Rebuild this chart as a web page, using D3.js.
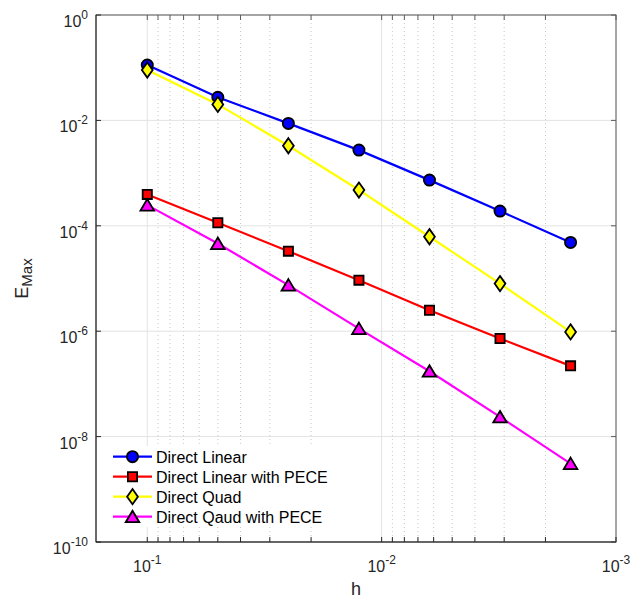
<!DOCTYPE html>
<html>
<head>
<meta charset="utf-8">
<script src="https://cdn.jsdelivr.net/npm/d3@7"></script>
<style>
  body { margin: 0; background: #fff; }
  svg { display: block; font-family: "Liberation Sans", Arial, Helvetica, sans-serif; }
</style>
</head>
<body>
<div id="chart"></div>
<script>
// step sizes and max errors
var hValues = [0.1, 0.05, 0.025, 0.0125, 0.00625, 0.003125, 0.0015625];
var directLinear = [0.112, 0.0274, 0.00877, 0.00273, 7.36e-4, 1.9e-4, 4.83e-5];
var directLinearPECE = [3.94e-4, 1.14e-4, 3.3e-5, 9.3e-6, 2.5e-6, 7.27e-7, 2.2e-7];
var directQuad = [0.0903, 0.0201, 0.0033, 4.77e-4, 6.2e-5, 8.0e-6, 9.7e-7];
var directQuadPECE = [2.47e-4, 4.6e-5, 7.5e-6, 1.12e-6, 1.74e-7, 2.36e-8, 3.07e-9];

var seriesNames = ["Direct Linear", "Direct Linear with PECE", "Direct Quad", "Direct Qaud with PECE"];
var xTickExps = [-1, -2, -3];
var yTickExps = [0, -2, -4, -6, -8, -10];

var width = 635, height = 601;
var margin = { top: 15, left: 96, right: 19, bottom: 59 };
var w = width - margin.left - margin.right;
var h = height - margin.top - margin.bottom;

var svg = d3.select("#chart")
    .append("svg")
    .attr("width", width)
    .attr("height", height);

var g = svg.append("g")
    .attr("transform", "translate(" + margin.left + "," + margin.top + ")");

// log x axis, reversed (large h on the left)
var x = d3.scaleLog().domain([Math.pow(10, -0.7812), 1e-3]).range([0, w]);
var y = d3.scaleLog().domain([1e-10, 1]).range([h, 0]);

var axisColor = "#262626";

// minor x grid (dotted)
var minorX = [];
[-3, -2].forEach(function (e) {
    for (var m = 2; m <= 9; m++) minorX.push(m * Math.pow(10, e));
});
g.append("g").selectAll("line")
    .data(minorX)
    .enter().append("line")
    .attr("x1", function (d) { return x(d); })
    .attr("x2", function (d) { return x(d); })
    .attr("y1", 0).attr("y2", h)
    .style("stroke", "#c8c8c8")
    .style("stroke-width", "1px")
    .style("stroke-dasharray", "1,3");

// major grid
g.append("g").selectAll("line")
    .data(xTickExps)
    .enter().append("line")
    .attr("x1", function (d) { return x(Math.pow(10, d)); })
    .attr("x2", function (d) { return x(Math.pow(10, d)); })
    .attr("y1", 0).attr("y2", h)
    .style("stroke", "#e3e3e3")
    .style("stroke-width", "1px");

g.append("g").selectAll("line")
    .data(yTickExps)
    .enter().append("line")
    .attr("x1", 0).attr("x2", w)
    .attr("y1", function (d) { return y(Math.pow(10, d)); })
    .attr("y2", function (d) { return y(Math.pow(10, d)); })
    .style("stroke", "#e3e3e3")
    .style("stroke-width", "1px");

// markers
function markerPath(type) {
    if (type === "circle") return d3.symbol().type(d3.symbolCircle).size(Math.PI * 5.6 * 5.6)();
    if (type === "square") return "M-4.6,-4.6L4.6,-4.6L4.6,4.6L-4.6,4.6Z";
    if (type === "diamond") return "M0,-7.6L5.4,0L0,7.6L-5.4,0Z";
    return "M0,-6L6.8,5.5L-6.8,5.5Z";
}

var series = [
    { name: seriesNames[0], values: directLinear, color: "#0000ff", marker: "circle" },
    { name: seriesNames[1], values: directLinearPECE, color: "#ff0000", marker: "square" },
    { name: seriesNames[2], values: directQuad, color: "#ffff00", marker: "diamond" },
    { name: seriesNames[3], values: directQuadPECE, color: "#ff00ff", marker: "triangle" }
];

var line = d3.line()
    .x(function (d) { return x(d[0]); })
    .y(function (d) { return y(d[1]); });

var plot = g.append("g");
series.forEach(function (s) {
    var pts = hValues.map(function (hv, i) { return [hv, s.values[i]]; });
    plot.append("path")
        .datum(pts)
        .style("fill", "none")
        .style("stroke", s.color)
        .style("stroke-width", "2.2px")
        .attr("d", line);
    plot.selectAll(null)
        .data(pts)
        .enter().append("path")
        .attr("transform", function (d) { return "translate(" + x(d[0]) + "," + y(d[1]) + ")"; })
        .attr("d", markerPath(s.marker))
        .style("fill", s.color)
        .style("stroke", "#000")
        .style("stroke-width", "1.8px")
        .style("stroke-linejoin", "miter");
});

// frame
g.append("rect")
    .attr("x", 0).attr("y", 0)
    .attr("width", w).attr("height", h)
    .style("fill", "none")
    .style("stroke", "#5a5a5a")
    .style("stroke-width", "1px");

// ticks (inside, on all sides)
var tickLen = 5;
var xTicksAll = xTickExps.map(function (e) { return Math.pow(10, e); }).concat(minorX);
g.append("g").selectAll("line")
    .data(xTicksAll)
    .enter().append("line")
    .attr("x1", function (d) { return x(d); })
    .attr("x2", function (d) { return x(d); })
    .attr("y1", h).attr("y2", h - tickLen)
    .style("stroke", axisColor);
g.append("g").selectAll("line")
    .data(xTicksAll)
    .enter().append("line")
    .attr("x1", function (d) { return x(d); })
    .attr("x2", function (d) { return x(d); })
    .attr("y1", 0).attr("y2", tickLen)
    .style("stroke", "#5a5a5a");
g.append("g").selectAll("line")
    .data(yTickExps)
    .enter().append("line")
    .attr("x1", 0).attr("x2", tickLen)
    .attr("y1", function (d) { return y(Math.pow(10, d)); })
    .attr("y2", function (d) { return y(Math.pow(10, d)); })
    .style("stroke", axisColor);
g.append("g").selectAll("line")
    .data(yTickExps)
    .enter().append("line")
    .attr("x1", w).attr("x2", w - tickLen)
    .attr("y1", function (d) { return y(Math.pow(10, d)); })
    .attr("y2", function (d) { return y(Math.pow(10, d)); })
    .style("stroke", "#5a5a5a");

// left & bottom edges darker
g.append("line").attr("x1", 0).attr("x2", 0).attr("y1", 0).attr("y2", h).style("stroke", axisColor);
g.append("line").attr("x1", 0).attr("x2", w).attr("y1", h).attr("y2", h).style("stroke", axisColor);

// tick labels with superscripts
var yLabels = g.append("g").selectAll("text")
    .data(yTickExps)
    .enter().append("text")
    .attr("x", -8)
    .attr("y", function (d) { return y(Math.pow(10, d)) + 12; })
    .style("text-anchor", "end")
    .style("fill", axisColor)
    .style("font-size", "16px");
yLabels.append("tspan").text("10");
yLabels.append("tspan").attr("dy", -8).style("font-size", "12px").text(function (d) { return d; });

var xLabels = g.append("g").selectAll("text")
    .data(xTickExps)
    .enter().append("text")
    .attr("x", function (d) { return x(Math.pow(10, d)); })
    .attr("y", h + 30)
    .style("text-anchor", "middle")
    .style("fill", axisColor)
    .style("font-size", "16px");
xLabels.append("tspan").text("10");
xLabels.append("tspan").attr("dy", -8).style("font-size", "12px").text(function (d) { return d; });

// axis labels
g.append("text")
    .attr("x", w / 2)
    .attr("y", h + 53)
    .style("text-anchor", "middle")
    .style("fill", axisColor)
    .style("font-size", "18px")
    .text("h");

var yl = svg.append("text")
    .attr("transform", "translate(28," + (margin.top + h / 2) + ") rotate(-90)")
    .style("text-anchor", "middle")
    .style("fill", axisColor)
    .style("font-size", "18px");
yl.append("tspan").text("E");
yl.append("tspan").attr("dy", 4).style("font-size", "15px").text("Max");

// legend
var legend = g.append("g").attr("transform", "translate(7,431)");
legend.append("rect")
    .attr("x", 0).attr("y", 0)
    .attr("width", 236).attr("height", 81)
    .style("fill", "#fff");
series.forEach(function (s, i) {
    var row = legend.append("g").attr("transform", "translate(0," + (10.7 + i * 20) + ")");
    row.append("line")
        .attr("x1", 10).attr("x2", 49)
        .style("stroke", s.color)
        .style("stroke-width", "2.2px");
    row.append("path")
        .attr("transform", "translate(29.5,0)")
        .attr("d", markerPath(s.marker))
        .style("fill", s.color)
        .style("stroke", "#000")
        .style("stroke-width", "1.8px");
    row.append("text")
        .attr("x", 53)
        .attr("y", 5.8)
        .style("fill", "#000")
        .style("font-size", "16px")
        .text(s.name);
});
</script>
</body>
</html>
